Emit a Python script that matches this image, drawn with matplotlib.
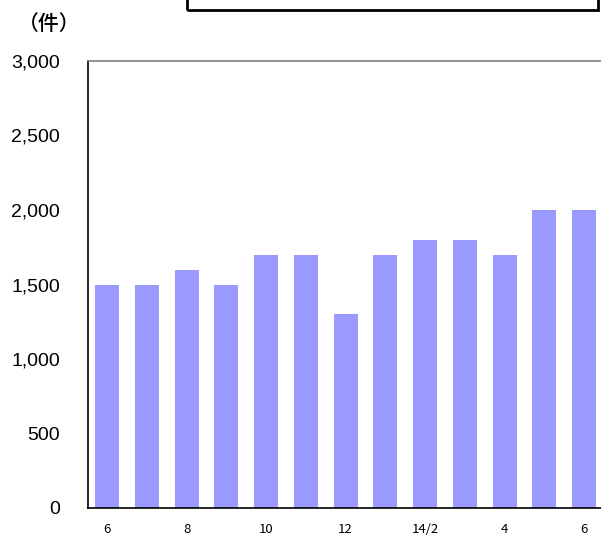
import matplotlib.pyplot as plt
from matplotlib.patches import Rectangle

plt.rcParams['font.family'] = ['Noto Sans CJK JP', 'DejaVu Sans']

months = ['6', '', '8', '', '10', '', '12', '', '14/2', '', '4', '', '6']
counts = [1500, 1500, 1600, 1500, 1700, 1700, 1300, 1700, 1800, 1800, 1700, 2000, 2000]
y_ticks = [0, 500, 1000, 1500, 2000, 2500, 3000]

fig = plt.figure(figsize=(6.01, 5.36), dpi=100)
ax = fig.add_axes([88 / 601, 28 / 536, 514 / 601, 447 / 536])

x = list(range(len(counts)))
ax.bar(x, counts, width=0.6, color='#9b9bff')
ax.set_xlim(-0.48, 12.45)
ax.set_ylim(0, 3000)
ax.set_yticks(y_ticks)
ax.set_yticklabels(['{:,}'.format(v) for v in y_ticks], fontsize=14,
                   family='Liberation Sans')
ax.set_xticks(x)
ax.set_xticklabels(months, fontsize=9.5)
ax.tick_params(axis='both', length=0)
ax.tick_params(axis='y', pad=20)
ax.tick_params(axis='x', pad=11)

for side in ['left', 'bottom']:
    ax.spines[side].set_color('black')
    ax.spines[side].set_linewidth(1.2)
ax.spines['top'].set_color('#808080')
ax.spines['top'].set_linewidth(1.2)
ax.spines['right'].set_visible(False)

fig.text(18 / 601, 1 - 24 / 536, '（件）', fontsize=15, fontweight='medium',
         va='center', ha='left')

fig.patches.append(Rectangle((187 / 601, 1 - 10 / 536), 411 / 601, 20 / 536,
                             transform=fig.transFigure, fill=False,
                             edgecolor='black', linewidth=2))

fig.savefig('out.png', dpi=100)
